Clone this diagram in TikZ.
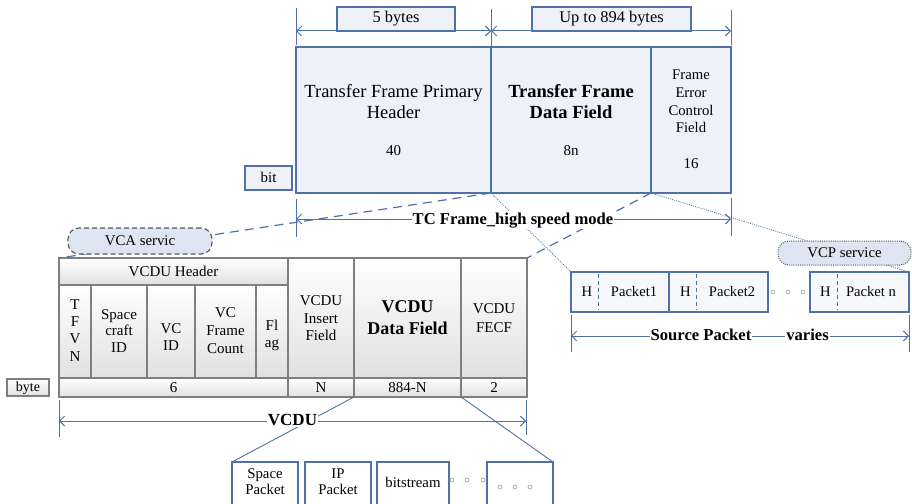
\documentclass[tikz,border=0pt]{standalone}
\usepackage{fontspec}
\setmainfont{Liberation Serif}
\usetikzlibrary{arrows.meta}

\definecolor{frameblue}{HTML}{4F71A8}
\definecolor{framefill}{HTML}{EEF1F7}
\definecolor{svcfill}{HTML}{DCE5F1}
\definecolor{pktfill}{HTML}{F6F8FC}
\definecolor{tablegray}{HTML}{7F7F7F}
\definecolor{svcgray}{HTML}{555555}
\definecolor{dotgray}{HTML}{9A9A9A}

% font size helper
\newcommand\fs[1]{\fontsize{#1}{#1}\selectfont}
% rectangle node from its top-left and bottom-right corners
\newcommand\mkbox[6][]{\node[#1, anchor=north west,
  minimum width={#5pt-#3pt}, minimum height={#6pt-#4pt}] (#2) at (#3,#4) {};}

\begin{document}
\begin{tikzpicture}[x=1pt,y=-1pt,
  bluebox/.style={draw=frameblue, line width=1.1pt, fill=framefill, inner sep=0pt, outer sep=0pt},
  pktbox/.style={draw=frameblue, line width=1.1pt, fill=pktfill, inner sep=0pt, outer sep=0pt},
  plainbox/.style={draw=frameblue, line width=1.1pt, fill=white, inner sep=0pt, outer sep=0pt},
  cellbox/.style={draw=tablegray, line width=1.1pt, top color=white, bottom color=black!12, inner sep=0pt, outer sep=0pt},
  txt/.style={anchor=base, inner sep=0pt, font=\fs{15}},
  dimline/.style={draw=frameblue, line width=1pt},
  dimarrow/.style={draw=frameblue, line width=1pt, {Straight Barb[length=5pt,width=10pt]}-{Straight Barb[length=5pt,width=10pt]}},
  dimlabel/.style={anchor=base, fill=white, inner xsep=1pt, inner ysep=1pt, font=\fs{16.6}\bfseries},
  longdash/.style={draw=frameblue, line width=1.2pt, dash pattern=on 9pt off 6pt},
  finedot/.style={draw=frameblue, line width=0.8pt, dash pattern=on 1pt off 1.2pt},
  thinlink/.style={draw=frameblue, line width=0.9pt},
  hsep/.style={draw=frameblue, line width=0.9pt, dash pattern=on 4pt off 3pt},
  smalldot/.style={circle, draw=dotgray, line width=0.6pt, minimum size=4pt, inner sep=0pt},
]
\useasboundingbox (0,0) rectangle (912,503);

% ---------------- TC transfer frame ----------------
\mkbox[bluebox]{lb5}{337}{7}{455}{31}
\mkbox[bluebox]{lb894}{532}{7}{691}{31}
\node[txt, font=\fs{16.4}] (lb5t) at (396,23) {5 bytes};
\node[txt, font=\fs{16.4}] (lb894t) at (611.5,23) {Up to 894 bytes};

\mkbox[bluebox]{ph}{296}{47}{491}{193}
\mkbox[bluebox]{df}{491}{47}{651}{193}
\mkbox[bluebox]{fe}{651}{47}{731}{193}
\mkbox[bluebox]{bit}{245}{166}{292}{190}

\node[txt, font=\fs{18.5}] (pht1) at (393.5,97) {Transfer Frame Primary};
\node[txt, font=\fs{18.5}] (pht2) at (393.5,118) {Header};
\node[txt] (pht3) at (393.5,155) {40};
\node[txt, font=\fs{18.5}\bfseries] (dft1) at (571,97) {Transfer Frame};
\node[txt, font=\fs{18.5}\bfseries] (dft2) at (571,118) {Data Field};
\node[txt] (dft3) at (571,155) {8n};
\node[txt, font=\fs{14.7}] (fet1) at (691,79) {Frame};
\node[txt, font=\fs{14.7}] (fet2) at (691,97) {Error};
\node[txt, font=\fs{14.7}] (fet3) at (691,115) {Control};
\node[txt, font=\fs{14.7}] (fet4) at (691,132) {Field};
\node[txt] (fet5) at (691,168) {16};
\node[txt] (bitt) at (268.5,182) {bit};

% size markers above the frame
\coordinate (t0) at (296,31);
\coordinate (t1) at (491,31);
\coordinate (t2) at (731,31);
\draw[dimline] (296,8) -- (296,45);
\draw[dimline] (491,9) -- (df.north west);
\draw[dimline] (731,10) -- (731,45);
\draw[dimarrow] (t0) -- (t1);
\draw[dimarrow] (t1) -- (t2);

% ---------------- VCDU ----------------
\mkbox[cellbox]{hdr}{59}{258}{288}{285}
\mkbox[cellbox]{tfvn}{59}{285}{91}{378}
\mkbox[cellbox]{scid}{91}{285}{147}{378}
\mkbox[cellbox]{vcid}{147}{285}{195}{378}
\mkbox[cellbox]{vcfc}{195}{285}{256}{378}
\mkbox[cellbox]{flag}{256}{285}{288}{378}
\mkbox[cellbox]{ins}{288}{258}{354}{378}
\mkbox[cellbox]{vdf}{354}{258}{461}{378}
\mkbox[cellbox]{vfe}{461}{258}{527}{378}
\mkbox[cellbox]{b6}{59}{378}{288}{397}
\mkbox[cellbox]{bN}{288}{378}{354}{397}
\mkbox[cellbox]{b884}{354}{378}{461}{397}
\mkbox[cellbox]{b2}{461}{378}{527}{397}
\mkbox[cellbox]{byte}{7}{379}{49}{396}

\node[txt] (hdrt) at (173.5,276) {VCDU Header};
\node[txt] (tf1) at (75,309) {T};
\node[txt] (tf2) at (75,326) {F};
\node[txt] (tf3) at (75,343) {V};
\node[txt] (tf4) at (75,361) {N};
\node[txt] (sc1) at (119,319) {Space};
\node[txt] (sc2) at (119,335) {craft};
\node[txt] (sc3) at (119,352) {ID};
\node[txt] (vi1) at (171,333) {VC};
\node[txt] (vi2) at (171,350) {ID};
\node[txt] (fc1) at (225.5,317) {VC};
\node[txt] (fc2) at (225.5,335) {Frame};
\node[txt] (fc3) at (225.5,353) {Count};
\node[txt] (fl1) at (272,330) {Fl};
\node[txt] (fl2) at (272,347) {ag};
\node[txt] (in1) at (321,305) {VCDU};
\node[txt] (in2) at (321,323) {Insert};
\node[txt] (in3) at (321,340) {Field};
\node[txt, font=\fs{18}\bfseries] (vd1) at (407.5,312) {VCDU};
\node[txt, font=\fs{18}\bfseries] (vd2) at (407.5,334) {Data Field};
\node[txt] (vf1) at (494,313) {VCDU};
\node[txt] (vf2) at (494,332) {FECF};
\node[txt] (b6t) at (173.5,392) {6};
\node[txt] (bNt) at (321,392) {N};
\node[txt] (b884t) at (407.5,392) {884-N};
\node[txt] (b2t) at (494,392) {2};
\node[txt, font=\fs{14}] (bytet) at (28,391) {byte};

% ---------------- source packets ----------------
\mkbox[pktbox]{p1}{571}{272}{669}{312}
\mkbox[pktbox]{p2}{669}{272}{768}{312}
\mkbox[pktbox]{pn}{810}{272}{909}{312}
\draw[hsep] (598,274) -- (598,310);
\draw[hsep] (696,274) -- (696,310);
\draw[hsep] (837,274) -- (837,310);
\node[txt, font=\fs{14.6}] (h1) at (587,296) {H};
\node[txt, font=\fs{14.6}] (pk1) at (634,296) {Packet1};
\node[txt, font=\fs{14.6}] (h2) at (685.5,296) {H};
\node[txt, font=\fs{14.6}] (pk2) at (732,296) {Packet2};
\node[txt, font=\fs{14.6}] (h3) at (825.5,296) {H};
\node[txt, font=\fs{14.6}] (pk3) at (871,296) {Packet n};
\node[smalldot] (sd1) at (773,292) {};
\node[smalldot] (sd2) at (788,292) {};
\node[smalldot] (sd3) at (803,292) {};

% ---------------- payload types ----------------
\mkbox[plainbox]{bsp}{232}{462}{298}{512}
\mkbox[plainbox]{bip}{305}{462}{371}{512}
\mkbox[plainbox]{bbs}{377}{462}{449}{512}
\mkbox[plainbox]{bmore}{487}{462}{553}{512}
\node[txt, font=\fs{14.8}] (bsp1) at (265,478) {Space};
\node[txt, font=\fs{14.8}] (bsp2) at (265,494) {Packet};
\node[txt, font=\fs{14.8}] (bip1) at (338,478) {IP};
\node[txt, font=\fs{14.8}] (bip2) at (338,494) {Packet};
\node[txt, font=\fs{14.8}] (bbst) at (413,487) {bitstream};
\node[smalldot] (sd4) at (452,480) {};
\node[smalldot] (sd5) at (467,480) {};
\node[smalldot] (sd6) at (483,480) {};
\node[smalldot] (sd7) at (500,487) {};
\node[smalldot] (sd8) at (515,487) {};
\node[smalldot] (sd9) at (530,487) {};

% ---------------- expansion links ----------------
\draw[longdash] (df.south west) -- (hdr.north west);
\draw[longdash] (df.south east) -- (vfe.north east);
\draw[finedot] (df.south west) -- (p1.north west);
\draw[finedot] (df.south east) -- (pn.north east);
\draw[thinlink] (b884.south west) -- (bsp.north west);
\draw[thinlink] (b884.south east) -- (bmore.north east);

% service tags sitting on the links
\node[draw=svcgray, line width=1.1pt, dash pattern=on 5pt off 3pt, fill=svcfill,
  rounded corners=11pt, minimum width=144pt, minimum height=26pt, inner sep=0pt,
  font=\fs{14.8}] (vca) at (140,241) {VCA servic};
\node[draw=svcgray, line width=1pt, dash pattern=on 1pt off 1.2pt, fill=svcfill,
  rounded corners=11pt, minimum width=133pt, minimum height=24pt, inner sep=0pt,
  font=\fs{14.8}] (vcp) at (844.5,253) {VCP service};

% ---------------- length markers ----------------
\coordinate (f0) at (296,219);
\coordinate (f1) at (731,219);
\draw[dimline] (296,199) -- (296,237);
\draw[dimline] (731,198) -- (731,236);
\draw[dimarrow] (f0) -- (f1);
\node[dimlabel] (tcl) at (513,224) {TC Frame\_high speed mode};

\coordinate (s0) at (571,336);
\coordinate (s1) at (909,336);
\draw[dimline] (571,315) -- (571,352);
\draw[dimline] (909,315) -- (909,352);
\draw[dimarrow] (s0) -- (s1);
\node[dimlabel] (spl) at (701,340.5) {Source Packet};
\node[dimlabel] (spv) at (807.5,340.5) {varies};

\coordinate (v0) at (59,421);
\coordinate (v1) at (526,421);
\draw[dimline] (59,400) -- (59,437);
\draw[dimline] (526,400) -- (526,435);
\draw[dimarrow] (v0) -- (v1);
\node[dimlabel, font=\fs{17}\bfseries] (vcl) at (292.5,425.5) {VCDU};
\end{tikzpicture}
\end{document}
